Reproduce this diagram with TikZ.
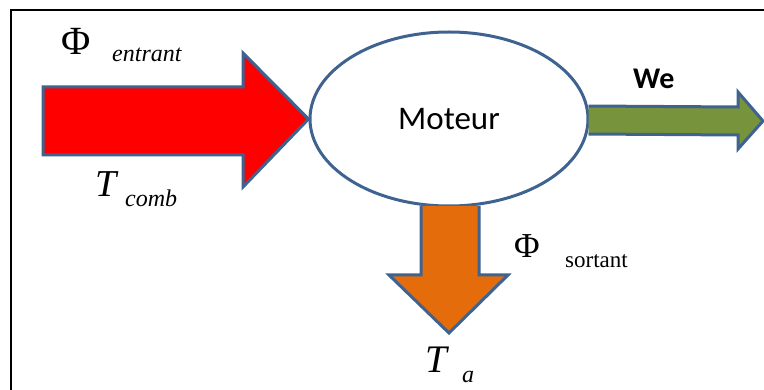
\documentclass[tikz,border=0pt]{standalone}
\usepackage{fontspec}
\setmainfont{Liberation Serif}
\newfontfamily\calfont{Carlito}
\usetikzlibrary{shapes.geometric}
\definecolor{edgeblue}{HTML}{3F6391}
\definecolor{redfill}{HTML}{FF0000}
\definecolor{greenfill}{HTML}{77933C}
\definecolor{orangefill}{HTML}{E46C0A}
\tikzset{
  blockarrow/.style={draw=edgeblue, line width=3pt, line join=miter},
  lbl/.style={inner sep=0pt, anchor=base west, text=black},
}
\begin{document}
\begin{tikzpicture}[x=1pt,y=-1pt]
\useasboundingbox (0,0) rectangle (764,390);
% frame (only top and left edges are visible)
\draw[line width=2pt] (11,390) -- (11,10) -- (764,10);
% motor
\node[ellipse, draw=edgeblue, line width=3pt, minimum width=278pt, minimum height=174pt, inner sep=0pt, font=\calfont\fontsize{33}{38}\selectfont] (moteur) at (449,119) {Moteur};
% incoming red arrow
\coordinate (redtip) at (moteur.west);
\draw[blockarrow, fill=redfill] (43,87) -- (243,87) -- (243,53) -- (redtip) -- (243,187) -- (243,155) -- (43,155) -- cycle;
% outgoing green arrow
\coordinate (greenbase) at (moteur.east);
\coordinate (greentip) at (763,121);
\draw[blockarrow, fill=greenfill] ([xshift=-1pt,yshift=13pt]greenbase) -- (738,107) -- (738,92) -- (greentip) -- (738,149) -- (738,135) -- ([xshift=-1pt,yshift=-15pt]greenbase);
% outgoing orange arrow
\coordinate (orangetip) at (449,333);
\draw[blockarrow, fill=orangefill] (421,206) -- (421,275) -- (389,275) -- (orangetip) -- (508,275) -- (479,275) -- (479,206);
% labels
\node[lbl, font=\fontsize{40}{44}\selectfont] (phie) at (61,55) {Φ};
\node[lbl, font=\itshape\fontsize{24}{28}\selectfont] (ent) at (112,62) {entrant};
\node[lbl, font=\itshape\fontsize{38}{42}\selectfont] (tc) at (95,197) {T};
\node[lbl, font=\itshape\fontsize{24}{28}\selectfont] (comb) at (125,207) {comb};
\node[lbl, font=\calfont\bfseries\fontsize{30}{34}\selectfont] (we) at (633,89) {We};
\node[lbl, font=\fontsize{35}{40}\selectfont] (phis) at (514,258) {Φ};
\node[lbl, font=\fontsize{23}{27}\selectfont] (sort) at (565,268) {sortant};
\node[lbl, font=\itshape\fontsize{39}{44}\selectfont] (ta) at (425,373) {T};
\node[lbl, font=\itshape\fontsize{24}{28}\selectfont] (a) at (462,382) {a};
\end{tikzpicture}
\end{document}
